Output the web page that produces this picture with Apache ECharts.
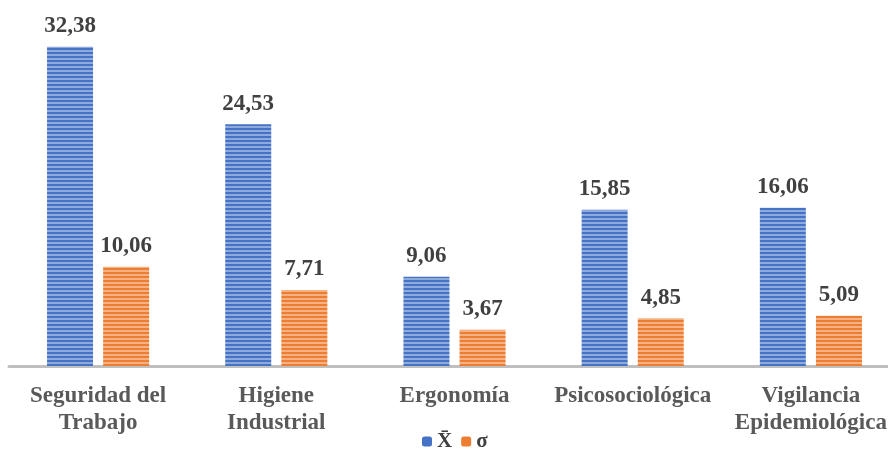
<!DOCTYPE html>
<html><head><meta charset="utf-8">
<script src="https://cdn.jsdelivr.net/npm/echarts@6/dist/echarts.min.js"></script>
<style>html,body{margin:0;padding:0;background:#fff}#c{width:888px;height:451px}</style>
</head><body><div id="c"></div>
<script>
const categories = ['Seguridad del\nTrabajo', 'Higiene\nIndustrial', 'Ergonomía', 'Psicosociológica', 'Vigilancia\nEpidemiológica'];
const meanValues = [32.38, 24.53, 9.06, 15.85, 16.06];
const sdValues = [10.06, 7.71, 3.67, 4.85, 5.09];
const seriesNames = ['X̄', 'σ'];

function stripe(base, light) {
  const c = document.createElement('canvas');
  c.width = 8; c.height = 4;
  const g = c.getContext('2d');
  g.fillStyle = light; g.fillRect(0, 0, 8, 4);
  g.fillStyle = base; g.fillRect(0, 0, 8, 2);
  return { image: c, repeat: 'repeat' };
}
const blue = '#4472C4', orange = '#ED7D31';
const font = '"Liberation Serif", "Times New Roman", serif';
const lbl = {
  show: true, position: 'top', distance: 9,
  fontFamily: font, fontWeight: 'bold', fontSize: 23, color: '#404040',
  formatter: p => p.value.toFixed(2).replace('.', ',')
};
const chart = echarts.init(document.getElementById('c'));
chart.setOption({
  animation: false,
  grid: { left: 9, width: 891, top: 21, bottom: 85, containLabel: false, outerBoundsMode: 'none' },
  legend: {
    bottom: -6, left: 417, itemWidth: 10, itemHeight: 10, itemGap: 9,
    textStyle: { fontFamily: font, fontWeight: 'bold', fontSize: 21, color: '#404040' },
    data: [{ name: seriesNames[0], itemStyle: { color: blue } }, { name: seriesNames[1], itemStyle: { color: orange } }]
  },
  xAxis: {
    type: 'category', data: categories,
    axisLine: { lineStyle: { color: '#BFBFBF', width: 3 } },
    axisTick: { show: false },
    axisLabel: { fontFamily: font, fontWeight: 'bold', fontSize: 23, color: '#595959', margin: 17, lineHeight: 27, interval: 0, hideOverlap: false }
  },
  yAxis: { type: 'value', min: 0, max: 35, show: false, splitLine: { show: false } },
  series: [
    { name: seriesNames[0], type: 'bar', data: meanValues, barWidth: 46, barGap: '22%',
      itemStyle: { color: stripe(blue, '#8EA9DB') }, label: lbl },
    { name: seriesNames[1], type: 'bar', data: sdValues, barWidth: 46,
      itemStyle: { color: stripe(orange, '#F4B183') }, label: lbl }
  ]
});
</script></body></html>
